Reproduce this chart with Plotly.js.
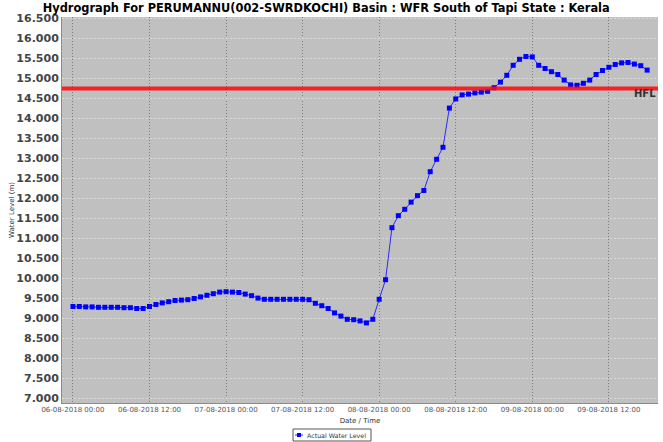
<!DOCTYPE html>
<html>
<head>
<meta charset="utf-8">
<script src="https://cdn.plot.ly/plotly-3.0.1.min.js"></script>
<style>html,body{margin:0;padding:0;background:#fff;}#chart{width:663px;height:442px;}</style>
</head>
<body>
<div id="chart"></div>
<script>
// ---- data ----
const chartTitle = 'Hydrograph For PERUMANNU(002-SWRDKOCHI) Basin : WFR South of Tapi State : Kerala';
const seriesName = 'Actual Water Level';
const startTime = '2018-08-06T00:00:00';   // first reading, hourly readings
const stepHours = 1;
const waterLevel = [
  9.30, 9.30, 9.29, 9.29, 9.28, 9.28, 9.28, 9.28, 9.27, 9.27,
  9.25, 9.25, 9.30, 9.35, 9.39, 9.42, 9.45, 9.46, 9.47, 9.50,
  9.54, 9.58, 9.62, 9.66, 9.67, 9.66, 9.65, 9.61, 9.57, 9.51,
  9.48, 9.48, 9.48, 9.48, 9.48, 9.48, 9.48, 9.47, 9.38, 9.32,
  9.25, 9.14, 9.06, 8.98, 8.97, 8.94, 8.89, 8.98, 9.48, 9.97,
  11.27, 11.57, 11.73, 11.91, 12.07, 12.20, 12.67, 12.98, 13.28, 14.26,
  14.49, 14.59, 14.61, 14.64, 14.66, 14.68, 14.77, 14.91, 15.08, 15.33,
  15.48, 15.55, 15.54, 15.33, 15.25, 15.17, 15.10, 14.96, 14.84, 14.83,
  14.88, 14.96, 15.10, 15.20, 15.28, 15.35, 15.39, 15.40, 15.36, 15.32,
  15.21
];
const hflLevel = 14.75;
const hflLabel = 'HFL';
const xTitle = 'Date / Time';
const yTitle = 'Water Level (m)';

// ---- build timestamps ----
function fmt(d){
  const p = n => String(n).padStart(2,'0');
  return d.getFullYear()+'-'+p(d.getMonth()+1)+'-'+p(d.getDate())+' '+p(d.getHours())+':'+p(d.getMinutes());
}
const t0 = new Date(startTime);
const times = waterLevel.map((_, i) => fmt(new Date(t0.getTime() + i*stepHours*3600000)));

const trace = {
  x: times, y: waterLevel, name: seriesName, type: 'scatter', mode: 'lines+markers',
  line: {color: '#2a2aff', width: 1},
  marker: {color: '#0000ff', symbol: 'square', size: 5},
  showlegend: false
};

// plot area in pixels: x 62..658, y 17..403
const PL = 62, PW = 596, PT = 17, PH = 386;
const px = v => (v - PL) / PW;
const py = v => (PT + PH - v) / PH;

const layout = {
  width: 663, height: 442,
  margin: {l: PL, r: 663 - PL - PW, t: PT, b: 442 - PT - PH},
  paper_bgcolor: '#ffffff',
  plot_bgcolor: '#c0c0c0',
  font: {family: 'DejaVu Sans', color: '#444'},
  title: {
    text: '<b>' + chartTitle + '</b>',
    font: {family: 'DejaVu Sans', size: 11.4, color: '#000'},
    x: 0.492, xanchor: 'center', y: 0.982, yanchor: 'middle', yref: 'container'
  },
  xaxis: {
    type: 'date',
    range: ['2018-08-05 22:17', '2018-08-09 19:42'],
    tick0: '2018-08-06 00:00', dtick: 43200000,
    tickformat: '%d-%m-%Y %H:%M',
    tickfont: {size: 7, color: '#555'},
    showgrid: true, gridcolor: '#7c7c7c', griddash: '1px,2px', gridwidth: 1,
    showline: true, linecolor: '#8a8a8a', linewidth: 1,
    ticks: '', zeroline: false,
    title: {text: xTitle, font: {size: 7, color: '#333'}, standoff: 4}
  },
  yaxis: {
    range: [6.8875, 16.5375],
    tick0: 7, dtick: 0.5, tickformat: '.3f',
    tickfont: {size: 11, color: '#444', weight: 'bold'},
    showgrid: true, gridcolor: '#dadada', griddash: '2px,2px', gridwidth: 1,
    showline: true, linecolor: '#8a8a8a', linewidth: 1,
    ticks: '', zeroline: false,
    title: {text: yTitle, font: {size: 7, color: '#333'}, standoff: 0}
  },
  shapes: [
    {type: 'line', xref: 'paper', x0: 0, x1: 1, yref: 'y', y0: hflLevel, y1: hflLevel,
     line: {color: 'rgba(255,10,10,0.88)', width: 4}, layer: 'above'},
    // legend box
    {type: 'rect', xref: 'paper', yref: 'paper', x0: px(293), x1: px(371), y0: py(441), y1: py(429),
     line: {color: '#555', width: 1}, fillcolor: '#fff'},
    {type: 'line', xref: 'paper', yref: 'paper', x0: px(295), x1: px(303), y0: py(435), y1: py(435),
     line: {color: '#2a2aff', width: 1}},
    {type: 'rect', xref: 'paper', yref: 'paper', x0: px(297), x1: px(301), y0: py(437), y1: py(433),
     line: {width: 0}, fillcolor: '#0000ff'}
  ],
  annotations: [
    {text: '<b>' + hflLabel + '</b>', xref: 'paper', x: 1.0, xanchor: 'right',
     yref: 'y', y: hflLevel, yanchor: 'top', yshift: 3, showarrow: false,
     font: {size: 10, color: '#333'}},
    {text: seriesName, xref: 'paper', yref: 'paper', x: px(304.5), xanchor: 'left',
     y: py(435), yanchor: 'middle', showarrow: false, font: {size: 6.3, color: '#333'}}
  ],
  showlegend: false
};

Plotly.newPlot('chart', [trace], layout, {displayModeBar: false, staticPlot: true});
</script>
</body>
</html>
